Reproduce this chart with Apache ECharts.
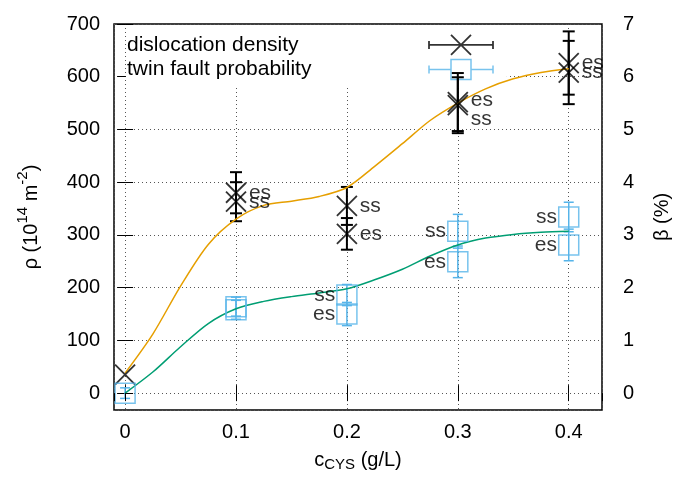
<!DOCTYPE html>
<html>
<head>
<meta charset="utf-8">
<script src="https://cdn.jsdelivr.net/npm/echarts@6/dist/echarts.min.js"></script>
<style>
  html, body { margin: 0; padding: 0; background: #fff; }
  #container { width: 679px; height: 477px; }
</style>
</head>
<body>
<div id="container"></div>
<script>
// CYS concentration (g/L) of each measured sample
var conc = [0, 0.1, 0.1, 0.2, 0.2, 0.3, 0.3, 0.4, 0.4];
// dislocation density rho (10^14 m^-2), error and sample tag
var rhoVal = [35, 380, 363, 355, 302, 552, 546, 626, 608];
var rhoErr = [0, 39, 37, 36, 30, 55, 53, 60, 60];
var rhoTag = ['', 'es', 'ss', 'ss', 'es', 'es', 'ss', 'es', 'ss'];
// twin fault probability beta (%), error and sample tag
var betaVal = [0, 1.64, 1.58, 1.86, 1.50, 3.07, 2.49, 3.34, 2.81];
var betaErr = [0.1, 0.18, 0.18, 0.2, 0.22, 0.32, 0.3, 0.28, 0.3];
var betaTag = ['', '', '', 'ss', 'es', 'ss', 'es', 'ss', 'es'];
// fitted guide curves
var fitX = [0, 0.025, 0.05, 0.075, 0.1, 0.125, 0.15, 0.175, 0.2, 0.225, 0.25, 0.275, 0.3, 0.325, 0.35, 0.375, 0.4];
var rhoFit = [38, 112, 203, 282, 330, 356, 364, 373, 390, 430, 473, 517, 550, 577, 596, 608, 615];
var betaFit = [0, 0.4, 0.88, 1.32, 1.6, 1.74, 1.83, 1.9, 1.98, 2.15, 2.35, 2.6, 2.81, 2.94, 3.01, 3.05, 3.07];

// small vertical nudges for a few tag labels (px)
var rhoTagShift = [0, 0, 0, 0, 0, -2, 14, 0, 0];

var dom = document.getElementById('container');
var myChart = echarts.init(dom);

var FONT = 'Liberation Sans, Arial, sans-serif';
var BLUE = '#56b4e9';
var xPath = 'path://M0,0L20,20M20,0L0,20';
var keyX = 'path://M0,10L64,10M0,6L0,14M64,6L64,14M22,0L42,20M42,0L22,20';
var keySq = 'path://M0,10L22,10M42,10L64,10M0,6L0,14M64,6L64,14M22,0L42,0L42,20L22,20Z';

function pts(vals, tags, shift) {
    var res = [];
    for (var i = 0; i < conc.length; i++) {
        var item = { name: tags[i], value: [conc[i], vals[i]] };
        if (shift && shift[i]) {
            item.label = { offset: [0, shift[i]] };
        }
        res.push(item);
    }
    return res;
}
function bars(vals, errs) {
    var res = [];
    for (var i = 0; i < conc.length; i++) {
        if (errs[i] > 0) res.push([conc[i], vals[i] - errs[i], vals[i] + errs[i]]);
    }
    return res;
}
function zip(xs, ys) {
    var res = [];
    for (var i = 0; i < xs.length; i++) res.push([xs[i], ys[i]]);
    return res;
}
function errRender(color, lw, cap) {
    return function (params, api) {
        var x = api.value(0);
        var p1 = api.coord([x, api.value(1)]);
        var p2 = api.coord([x, api.value(2)]);
        var st = { stroke: color, lineWidth: lw };
        return {
            type: 'group',
            children: [
                { type: 'line', shape: { x1: p1[0], y1: p1[1], x2: p2[0], y2: p2[1] }, style: st },
                { type: 'line', shape: { x1: p1[0] - cap, y1: p1[1], x2: p1[0] + cap, y2: p1[1] }, style: st },
                { type: 'line', shape: { x1: p2[0] - cap, y1: p2[1], x2: p2[0] + cap, y2: p2[1] }, style: st }
            ]
        };
    };
}

var tickLab = { fontSize: 20, color: '#000', fontFamily: FONT };
var dotted = { show: true, lineStyle: { color: '#555', width: 1, type: [1, 3] } };

var option = {
    animation: false,
    backgroundColor: '#fff',
    textStyle: { fontFamily: FONT },
    grid: {
        left: 114, right: 77, top: 24, bottom: 67,
        containLabel: false, outerBoundsMode: 'none',
        show: true, borderColor: '#000', borderWidth: 1.5
    },
    legend: {
        left: 126, top: 26,
        orient: 'vertical',
        align: 'right',
        padding: [8, 13, 5, 1],
        itemGap: 3,
        itemWidth: 64, itemHeight: 20,
        backgroundColor: '#fff',
        selectedMode: false,
        formatter: '{t|{name}}',
        textStyle: {
            fontSize: 21, color: '#000', fontFamily: FONT,
            rich: { t: { width: 297, align: 'left', fontSize: 21, fontFamily: FONT } }
        },
        data: [
            { name: 'dislocation density', icon: keyX,
              itemStyle: { color: 'transparent', borderColor: '#000', borderWidth: 1.8 } },
            { name: 'twin fault probability', icon: keySq,
              itemStyle: { color: 'transparent', borderColor: BLUE, borderWidth: 1.5 } }
        ]
    },
    xAxis: [
        {
            type: 'value', min: -0.01, max: 0.43,
            name: '{a|c}{s|CYS}{a| (g/L)}',
            nameLocation: 'middle', nameGap: 38,
            nameTextStyle: {
                rich: {
                    a: { fontSize: 20, color: '#000', fontFamily: FONT, verticalAlign: 'middle', lineHeight: 24 },
                    s: { fontSize: 15, color: '#000', fontFamily: FONT, verticalAlign: 'bottom', lineHeight: 24 }
                }
            },
            axisLine: { show: false },
            axisTick: { inside: true, length: 8, lineStyle: { color: '#000' } },
            axisLabel: Object.assign({ margin: 12, showMinLabel: false, showMaxLabel: false }, tickLab),
            splitLine: dotted
        },
        {
            type: 'value', min: -0.01, max: 0.43, position: 'top', z: 10,
            axisLine: { show: false },
            axisTick: { inside: true, length: 8, lineStyle: { color: '#000' } },
            axisLabel: { show: false },
            splitLine: { show: false }
        }
    ],
    yAxis: [
        {
            type: 'value', min: -32, max: 700,
            name: '{a|ρ (10}{s|14}{a| m}{s|-2}{a|)}',
            nameLocation: 'middle', nameGap: 73,
            nameTextStyle: {
                rich: {
                    a: { fontSize: 20, color: '#000', fontFamily: FONT, verticalAlign: 'bottom', lineHeight: 26 },
                    s: { fontSize: 15, color: '#000', fontFamily: FONT, verticalAlign: 'top', lineHeight: 26 }
                }
            },
            axisLine: { show: false },
            axisTick: { inside: true, length: 8, lineStyle: { color: '#000' } },
            axisLabel: Object.assign({ margin: 14, showMinLabel: false }, tickLab),
            splitLine: dotted
        },
        {
            type: 'value', min: -0.32, max: 7,
            name: 'β (%)',
            nameLocation: 'middle', nameGap: 50,
            nameTextStyle: { fontSize: 20, color: '#000', fontFamily: FONT },
            axisLine: { show: false },
            axisTick: { inside: true, length: 8, lineStyle: { color: '#000' } },
            axisLabel: Object.assign({ margin: 21, showMinLabel: false }, tickLab),
            splitLine: { show: false }
        }
    ],
    series: [
        {
            name: 'rho fit', type: 'line', smooth: 0.3, showSymbol: false,
            yAxisIndex: 0, data: zip(fitX, rhoFit),
            lineStyle: { color: '#e69f00', width: 1.5 }, z: 5
        },
        {
            name: 'beta fit', type: 'line', smooth: 0.3, showSymbol: false,
            yAxisIndex: 1, data: zip(fitX, betaFit),
            lineStyle: { color: '#009e73', width: 1.5 }, z: 5
        },
        {
            name: 'rho err', type: 'custom', yAxisIndex: 0, z: 5,
            renderItem: errRender('#000', 2, 6),
            encode: { x: 0, y: [1, 2] },
            data: bars(rhoVal, rhoErr)
        },
        {
            name: 'beta err', type: 'custom', yAxisIndex: 1, z: 5,
            renderItem: errRender(BLUE, 1.5, 5),
            encode: { x: 0, y: [1, 2] },
            data: bars(betaVal, betaErr)
        },
        {
            name: 'dislocation density', type: 'scatter', yAxisIndex: 0, z: 6,
            symbol: xPath, symbolSize: 20,
            itemStyle: { color: 'transparent', borderColor: '#000', borderWidth: 1.8 },
            label: { show: true, position: 'right', distance: 2, formatter: '{b}', fontSize: 21, color: '#000', fontFamily: FONT },
            data: pts(rhoVal, rhoTag, rhoTagShift)
        },
        {
            name: 'twin fault probability', type: 'scatter', yAxisIndex: 1, z: 6,
            symbol: 'rect', symbolSize: 20,
            itemStyle: { color: 'transparent', borderColor: BLUE, borderWidth: 1.5 },
            label: { show: true, position: 'left', distance: 1, formatter: '{b}', fontSize: 21, color: '#000', fontFamily: FONT },
            data: pts(betaVal, betaTag)
        }
    ]
};

if (option && typeof option === 'object') {
    myChart.setOption(option, true);
}
</script>
</body>
</html>
